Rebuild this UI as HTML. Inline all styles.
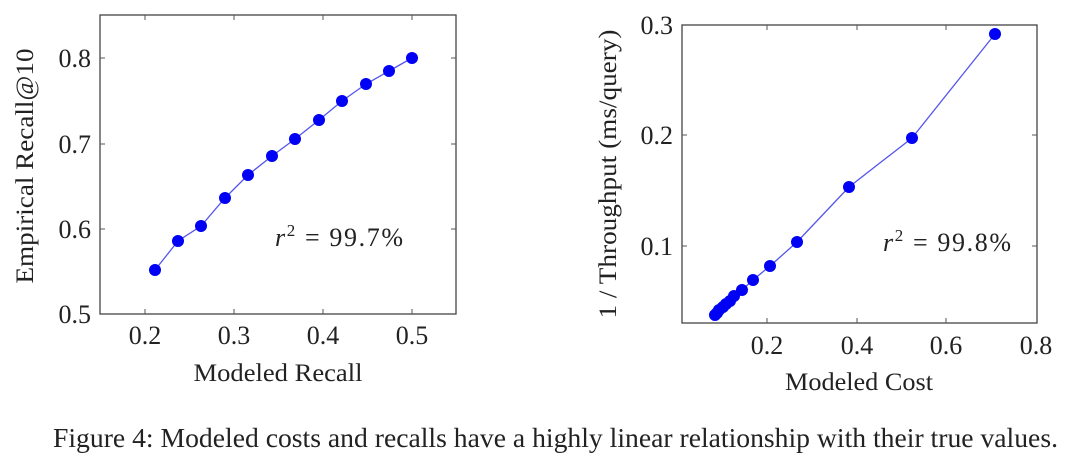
<!DOCTYPE html>
<html><head><meta charset="utf-8"><style>
html,body{margin:0;padding:0;background:#fff;width:1080px;height:458px;overflow:hidden}
svg{display:block}
text{font-family:"Liberation Serif",serif;fill:#222}
</style></head><body>
<svg width="1080" height="458" viewBox="0 0 1080 458" xmlns="http://www.w3.org/2000/svg">
<!-- Left chart -->
<rect x="100" y="15" width="356" height="299" fill="none" stroke="#444" stroke-width="1.3"/>
<g stroke="#555" stroke-width="1">
<line x1="145" y1="314" x2="145" y2="309"/><line x1="145" y1="15" x2="145" y2="20"/>
<line x1="234" y1="314" x2="234" y2="309"/><line x1="234" y1="15" x2="234" y2="20"/>
<line x1="323" y1="314" x2="323" y2="309"/><line x1="323" y1="15" x2="323" y2="20"/>
<line x1="412" y1="314" x2="412" y2="309"/><line x1="412" y1="15" x2="412" y2="20"/>
<line x1="100" y1="58" x2="105" y2="58"/><line x1="456" y1="58" x2="451" y2="58"/>
<line x1="100" y1="144" x2="105" y2="144"/><line x1="456" y1="144" x2="451" y2="144"/>
<line x1="100" y1="229" x2="105" y2="229"/><line x1="456" y1="229" x2="451" y2="229"/>
</g>
<g font-size="26" text-anchor="end">
<text x="91" y="67">0.8</text><text x="91" y="153">0.7</text><text x="91" y="238">0.6</text><text x="91" y="323">0.5</text>
</g>
<g font-size="26" text-anchor="middle">
<text x="145" y="344">0.2</text><text x="234" y="344">0.3</text><text x="323" y="344">0.4</text><text x="412" y="344">0.5</text>
<text x="278" y="381" font-size="25" textLength="169" lengthAdjust="spacingAndGlyphs">Modeled Recall</text>
<text transform="translate(33,166) rotate(-90)" font-size="25" textLength="235" lengthAdjust="spacingAndGlyphs">Empirical Recall@10</text>
</g>
<polyline fill="none" stroke="#5555ee" stroke-width="1.3" points="155,270 178,241 201,226 225,198 248,175 272,156 295,139 319,120 342,101 366,84 389,71 412,58"/>
<g fill="#0000f5">
<circle cx="155" cy="270" r="6"/><circle cx="178" cy="241" r="6"/><circle cx="201" cy="226" r="6"/><circle cx="225" cy="198" r="6"/><circle cx="248" cy="175" r="6"/><circle cx="272" cy="156" r="6"/><circle cx="295" cy="139" r="6"/><circle cx="319" cy="120" r="6"/><circle cx="342" cy="101" r="6"/><circle cx="366" cy="84" r="6"/><circle cx="389" cy="71" r="6"/><circle cx="412" cy="58" r="6"/>
</g>
<text x="275" y="246" font-size="26" textLength="128" lengthAdjust="spacing"><tspan font-style="italic">r</tspan><tspan font-size="17" dy="-10">2</tspan><tspan dy="10"> = 99.7%</tspan></text>

<!-- Right chart -->
<rect x="682" y="25" width="355" height="298" fill="none" stroke="#444" stroke-width="1.3"/>
<g stroke="#555" stroke-width="1">
<line x1="767" y1="323" x2="767" y2="318"/><line x1="767" y1="25" x2="767" y2="30"/>
<line x1="857" y1="323" x2="857" y2="318"/><line x1="857" y1="25" x2="857" y2="30"/>
<line x1="946" y1="323" x2="946" y2="318"/><line x1="946" y1="25" x2="946" y2="30"/>
<line x1="682" y1="135" x2="687" y2="135"/><line x1="1037" y1="135" x2="1032" y2="135"/>
<line x1="682" y1="246" x2="687" y2="246"/><line x1="1037" y1="246" x2="1032" y2="246"/>
</g>
<g font-size="26" text-anchor="end">
<text x="673" y="34">0.3</text><text x="673" y="144">0.2</text><text x="673" y="255">0.1</text>
</g>
<g font-size="26" text-anchor="middle">
<text x="767" y="354">0.2</text><text x="857" y="354">0.4</text><text x="946" y="354">0.6</text><text x="1036" y="354">0.8</text>
<text x="859" y="390" font-size="25" textLength="148" lengthAdjust="spacingAndGlyphs">Modeled Cost</text>
<text transform="translate(616,174) rotate(-90)" font-size="25" textLength="289" lengthAdjust="spacingAndGlyphs">1 / Throughput (ms/query)</text>
</g>
<polyline fill="none" stroke="#5555ee" stroke-width="1.3" points="715,315 717,313 719,310 723,307 726,304 730,301 734,296 742,290 753,280 770,266 797,242 849,187 912,138 995,34"/>
<g fill="#0000f5">
<circle cx="715" cy="315" r="6"/><circle cx="717" cy="313" r="6"/><circle cx="719" cy="310" r="6"/><circle cx="723" cy="307" r="6"/><circle cx="726" cy="304" r="6"/><circle cx="730" cy="301" r="6"/><circle cx="734" cy="296" r="6"/><circle cx="742" cy="290" r="6"/><circle cx="753" cy="280" r="6"/><circle cx="770" cy="266" r="6"/><circle cx="797" cy="242" r="6"/><circle cx="849" cy="187" r="6"/><circle cx="912" cy="138" r="6"/><circle cx="995" cy="34" r="6"/>
</g>
<text x="883" y="251" font-size="26" textLength="128" lengthAdjust="spacing"><tspan font-style="italic">r</tspan><tspan font-size="17" dy="-10">2</tspan><tspan dy="10"> = 99.8%</tspan></text>

<!-- Caption -->
<text x="53" y="447" font-size="27" textLength="1005" lengthAdjust="spacingAndGlyphs">Figure 4: Modeled costs and recalls have a highly linear relationship with their true values.</text>
</svg>
</body></html>
